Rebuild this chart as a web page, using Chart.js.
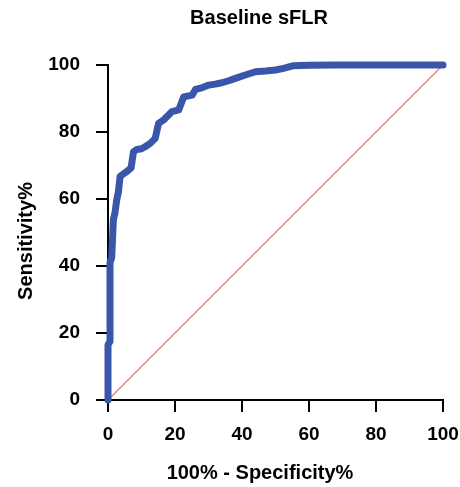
<!DOCTYPE html>
<html>
<head>
<meta charset="utf-8">
<script src="https://cdn.jsdelivr.net/npm/chart.js"></script>
<style>
  body { margin: 0; background: #fff; }
  canvas { display: block; }
</style>
</head>
<body>
<canvas id="rocChart" width="460" height="487"></canvas>
<script>
// Curva ROC (100% - especificidad, sensibilidad)
const fpr = [0, 0, 0.6, 0.6, 1.1, 1.6, 2.1, 2.6, 3.1, 3.6, 4.6, 5.6, 6.9, 7.6, 8.6, 10, 11.1, 12.6, 14.1, 15.1,
  16.6, 18, 19.1, 21.1, 22.6, 25.1, 26.1, 28, 30.1, 32, 34, 36, 38, 41, 44, 47, 50, 52.4, 55.4, 60, 67.4, 100];
const tpr = [0, 16.5, 17.5, 41, 42.5, 53.7, 56, 59.7, 62, 66.7, 67.5, 68.2, 69.3, 74.1, 74.8, 75, 75.6, 76.6, 78.1, 82.6,
  83.6, 85, 86.1, 86.6, 90.5, 91, 92.7, 93.2, 94, 94.3, 94.7, 95.3, 96, 97, 98, 98.2, 98.5, 99, 99.8, 99.9, 100, 100];

// Línea de referencia (azar)
const refX = [0, 100];
const refY = [0, 100];

const axisMin = 0;
const axisMax = 100;
const axisStep = 20;

const chartTitle = 'Baseline sFLR';
const xTitle = '100% - Specificity%';
const yTitle = 'Sensitivity%';

const FONT = "'Liberation Sans', Arial, Helvetica, sans-serif";

// Títulos dibujados a mano para poder colocarlos como en el original
const titlesPlugin = {
  id: 'titles',
  afterDraw(chart) {
    const ctx = chart.ctx;
    ctx.save();
    ctx.fillStyle = '#000';
    ctx.font = 'bold 20px ' + FONT;
    ctx.textAlign = 'center';
    ctx.textBaseline = 'alphabetic';
    ctx.fillText(chartTitle, 259, 24);
    ctx.fillText(xTitle, 260, 479);
    ctx.translate(32, 241);
    ctx.rotate(-Math.PI / 2);
    ctx.fillText(yTitle, 0, 0);
    ctx.restore();
  }
};

function axis(padding, fitFn) {
  return {
    type: 'linear',
    min: axisMin,
    max: axisMax,
    border: { display: true, color: '#000', width: 2 },
    grid: { display: true, drawOnChartArea: false, drawTicks: true, tickLength: 12, color: '#000', lineWidth: 2 },
    ticks: {
      stepSize: axisStep,
      color: '#000',
      padding,
      font: { family: FONT, size: 19, weight: 'bold' }
    },
    afterFit: fitFn
  };
}

const ctx = document.getElementById('rocChart').getContext('2d');
new Chart(ctx, {
  type: 'scatter',
  data: {
    datasets: [
      {
        label: 'ROC',
        data: fpr.map((x, i) => ({ x, y: tpr[i] })),
        showLine: true,
        borderColor: '#3A56AA',
        borderWidth: 7,
        borderCapStyle: 'round',
        borderJoinStyle: 'round',
        pointRadius: 0,
        tension: 0,
        clip: false
      },
      {
        label: 'Referencia',
        data: refX.map((x, i) => ({ x, y: refY[i] })),
        showLine: true,
        borderColor: '#EE7A66',
        borderWidth: 1.2,
        pointRadius: 0,
        clip: false
      }
    ]
  },
  options: {
    responsive: false,
    animation: false,
    devicePixelRatio: 1,
    layout: { padding: { top: 65, right: 17, left: 0, bottom: 0 } },
    plugins: {
      legend: { display: false },
      title: { display: false },
      tooltip: { enabled: false }
    },
    scales: {
      x: axis(11, scale => {
        scale.height = 87;
        scale.paddingLeft = 0;
        scale.paddingRight = 0;
      }),
      y: axis(16, scale => {
        scale.width = 108;
        scale.paddingTop = 0;
        scale.paddingBottom = 0;
      })
    }
  },
  plugins: [titlesPlugin]
});
</script>
</body>
</html>
